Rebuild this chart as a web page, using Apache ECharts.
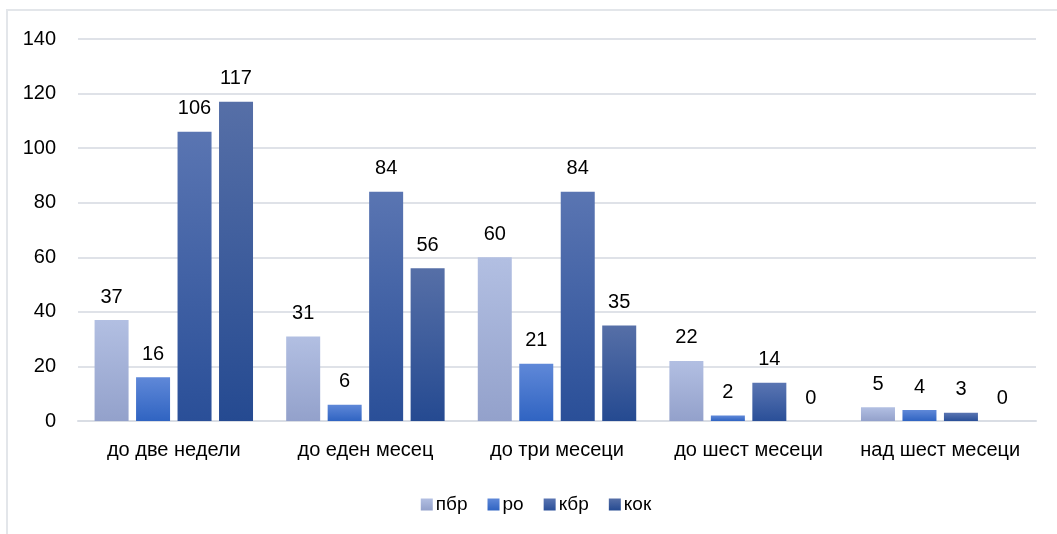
<!DOCTYPE html>
<html>
<head>
<meta charset="utf-8">
<script src="https://cdn.jsdelivr.net/npm/echarts@6/dist/echarts.min.js"></script>
<style>
  html, body { margin: 0; padding: 0; background: #fff; }
  #chart { position: absolute; left: 6px; top: 9px; width: 1060px; height: 540px; border: 2px solid #e3e6ea; box-sizing: border-box; }
</style>
</head>
<body>
<div id="chart"></div>
<script>
const categories = ['до две недели', 'до еден месец', 'до три месеци', 'до шест месеци', 'над шест месеци']
const seriesNames = ['пбр', 'ро', 'кбр', 'кок']
const pbr = [37, 31, 60, 22, 5]
const ro = [16, 6, 21, 2, 4]
const kbr = [106, 84, 84, 14, 3]
const kok = [117, 56, 35, 0, 0]

const grads = [
  ['#b2bfe2', '#93a1cb'],
  ['#5f88d8', '#3064c2'],
  ['#5a75b2', '#2a4f98'],
  ['#566fa7', '#254a91'],
]

function grad(c) {
  return new echarts.graphic.LinearGradient(0, 0, 0, 1, [
    { offset: 0, color: c[0] },
    { offset: 1, color: c[1] },
  ])
}

const chart = echarts.init(document.getElementById('chart'))
const values = [pbr, ro, kbr, kok]

chart.setOption({
  animation: false,
  textStyle: { fontFamily: 'Liberation Sans, Arial, sans-serif' },
  legend: {
    data: seriesNames,
    bottom: 28,
    left: 'center',
    itemWidth: 12,
    itemHeight: 12,
    itemGap: 20,
    icon: 'rect',
    textStyle: { fontSize: 19, color: '#000', padding: [0, 0, 0, -2] },
  },
  grid: { left: 70, right: 28, top: 28, bottom: 126 },
  xAxis: {
    type: 'category',
    data: categories,
    axisLine: { lineStyle: { color: '#d9dde4', width: 2 } },
    axisTick: { show: false },
    axisLabel: { fontSize: 20, color: '#000', margin: 19, interval: 0 },
  },
  yAxis: {
    type: 'value',
    min: 0,
    max: 140,
    interval: 20,
    axisLine: { show: false },
    axisTick: { show: false },
    axisLabel: { fontSize: 20, color: '#000', margin: 22 },
    splitLine: { lineStyle: { color: '#dfe2e8', width: 2 } },
  },
  series: seriesNames.map((name, i) => ({
    name,
    type: 'bar',
    data: values[i],
    barWidth: 34,
    barGap: '22%',
    itemStyle: { color: grad(grads[i]) },
    label: {
      show: true,
      position: 'top',
      distance: 13,
      fontSize: 20,
      color: '#000',
    },
  })),
})
</script>
</body>
</html>
